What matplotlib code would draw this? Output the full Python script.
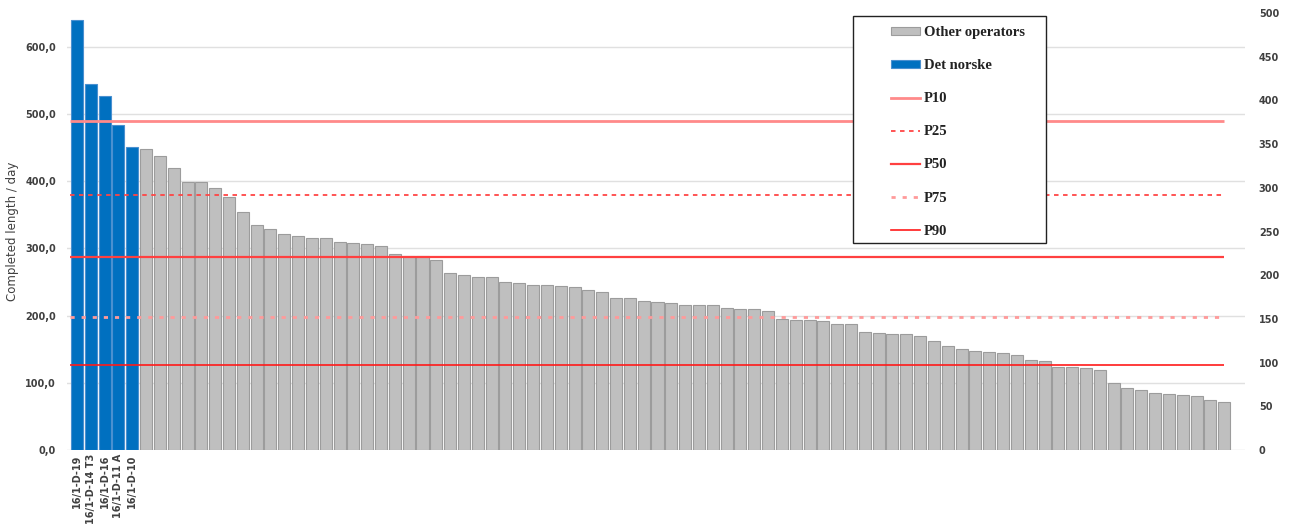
import matplotlib
matplotlib.use("Agg")
import matplotlib.pyplot as plt
from matplotlib.patches import Rectangle, Patch
from matplotlib.lines import Line2D
from matplotlib.ticker import FuncFormatter

# Det norske wells (blue) and other operators (grey, anonymised)
det_norske_wells = ["16/1-D-19", "16/1-D-14 T3", "16/1-D-16", "16/1-D-11 A", "16/1-D-10"]
det_norske_vals = [640, 545, 527, 483, 451]

other_vals = [448, 438, 419, 398, 398, 390, 376, 354, 334, 329, 321, 319, 315, 315, 310,
              308, 306, 303, 292, 289, 288,
              282, 263, 261, 257, 257, 249.5, 248.5, 246, 246, 244.6, 242, 238, 234.6,
              226, 226, 222, 220, 218, 216, 215, 215,
              211, 209, 209, 207.5, 195, 194, 194, 192.6, 188, 187, 175, 174, 173, 173,
              170, 162, 154.5, 150, 148, 146, 143.6,
              140.6, 133.7, 133, 123.3, 123, 122, 118.8, 99, 92.6, 88.6, 84.7, 83.6, 82,
              80, 74, 72]

# Percentile lines (secondary axis)
pct_labels = ["P10", "P25", "P50", "P75", "P90"]
pct_vals = [376, 292, 221, 152, 97]

left_ticks = [0, 100, 200, 300, 400, 500, 600]
right_ticks = [0, 50, 100, 150, 200, 250, 300, 350, 400, 450, 500]

#%% Plot
fig = plt.figure(figsize=(12.96, 5.27), dpi=100)
ax = fig.add_axes([0.0517, 0.1461, 0.9089, 0.8292])

n_blue = len(det_norske_vals)
values = det_norske_vals + other_vals
x = list(range(len(values)))
colors = ["#0070c0"] * n_blue + ["#bfbfbf"] * len(other_vals)
edges = ["#4a90d0"] * n_blue + ["#9c9c9c"] * len(other_vals)

ax.bar(x, values, width=0.87, color=colors, edgecolor=edges, linewidth=0.8, zorder=2)

ax.set_xlim(-0.72, 84.5)
ax.set_ylim(0, 650)
ax.set_yticks(left_ticks)
ax.yaxis.set_major_formatter(FuncFormatter(lambda v, p: f"{v:.1f}".replace(".", ",")))
ax.grid(axis="y", color="#e0e0e0", linewidth=1, zorder=0)
ax.set_axisbelow(True)
for s in ax.spines.values():
    s.set_visible(False)

ax.set_xticks(x)
ax.set_xticklabels(det_norske_wells + [""] * len(other_vals), rotation=90,
                   fontsize=7, color="#404040", fontweight="bold")
ax.tick_params(axis="x", length=0, pad=3)
ax.tick_params(axis="y", length=0, pad=8, labelsize=7, labelcolor="#404040")
for lbl in ax.get_yticklabels():
    lbl.set_fontweight("bold")
ax.set_ylabel("Completed length / day", fontsize=8.5, color="#404040")
ax.yaxis.set_label_coords(-0.041, 0.5)

# Secondary axis with percentile lines
ax2 = ax.twinx()
ax2.set_ylim(0, 500)
ax2.set_yticks(right_ticks)
ax2.tick_params(axis="y", length=0, pad=10, labelsize=7, labelcolor="#404040")
for lbl in ax2.get_yticklabels():
    lbl.set_fontweight("bold")
for s in ax2.spines.values():
    s.set_visible(False)

pct_styles = [
    dict(color="#ff8a8a", linestyle="-", linewidth=2.0),
    dict(color="#ff4545", linestyle=(0, (2.5, 2.5)), linewidth=1.3),
    dict(color="#ff4040", linestyle="-", linewidth=1.6),
    dict(color="#ff9a9a", linestyle=(0, (1.5, 2.5)), linewidth=2.0),
    dict(color="#ff1a1a", linestyle="-", linewidth=1.2),
]
for val, st in zip(pct_vals, pct_styles):
    ax2.hlines(val, -0.5, len(values) - 1, zorder=3, **st)

# Legend with hand-made frame
handles = [Patch(facecolor="#bfbfbf", edgecolor="#9c9c9c", linewidth=0.8),
           Patch(facecolor="#0070c0", edgecolor="#4a90d0", linewidth=0.8)]
handles += [Line2D([0], [0], **st) for st in pct_styles]
labels = ["Other operators", "Det norske"] + pct_labels
fig.patches.append(Rectangle((853 / 1296, 1 - 243 / 527), 193 / 1296, 227 / 527,
                             transform=fig.transFigure, fill=True, facecolor="white",
                             edgecolor="#222222", linewidth=1.0, zorder=5))
leg = fig.legend(handles, labels, loc="upper left",
                 bbox_to_anchor=(891 / 1296, 1 - 26 / 527),
                 frameon=False, borderpad=0, borderaxespad=0,
                 handlelength=2.0, handleheight=0.5, handletextpad=0.25,
                 labelspacing=1.38,
                 prop={"family": "Liberation Serif", "size": 10.5, "weight": "bold"})
leg.set_zorder(6)
for t in leg.get_texts():
    t.set_color("#222222")

plt.savefig("out.png", dpi=100)
